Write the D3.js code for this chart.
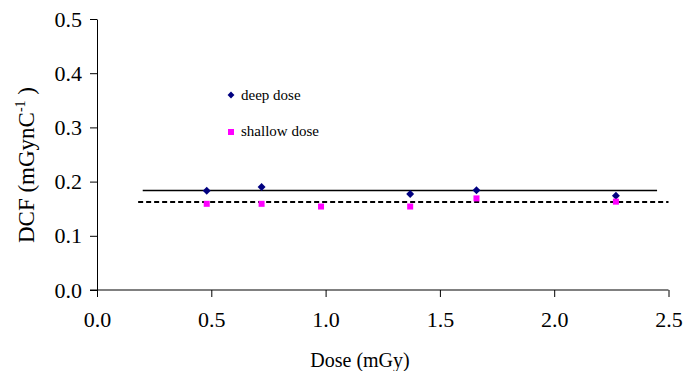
<!DOCTYPE html>
<html>
<head>
<meta charset="utf-8">
<script src="https://cdn.jsdelivr.net/npm/d3@7"></script>
<style>
  html, body { margin: 0; padding: 0; background: #fff; }
  svg { display: block; }
  svg text { font-family: "Liberation Serif", "Times New Roman", serif; fill: #000; }
</style>
</head>
<body>
<div id="chart"></div>
<script>
// dose values (mGy)
const deepDose = [0.48, 0.72, 1.37, 1.66, 2.27];
const deepDCF = [0.183, 0.190, 0.177, 0.184, 0.174];
const shallowDose = [0.48, 0.72, 0.98, 1.37, 1.66, 2.27];
const shallowDCF = [0.159, 0.159, 0.154, 0.154, 0.169, 0.163];

// mean lines
const deepLine = [[0.2, 0.1836], [2.45, 0.1836]];
const shallowLine = [[0.18, 0.1624], [2.5, 0.1624]];

const xTicks = [0, 0.5, 1.0, 1.5, 2.0, 2.5];
const yTicks = [0, 0.1, 0.2, 0.3, 0.4, 0.5];

const W = 684, H = 371;
const svg = d3.select("#chart").append("svg")
  .attr("width", W).attr("height", H);

const x = d3.scaleLinear().domain([0, 2.5]).range([97, 668.5]);
const y = d3.scaleLinear().domain([0, 0.5]).range([290, 19]);

// x axis: gray baseline, black ticks
svg.append("line")
  .attr("x1", 90).attr("x2", x(2.5))
  .attr("y1", y(0)).attr("y2", y(0))
  .attr("stroke", "#808080").attr("stroke-width", 2);

const xAx = svg.append("g")
  .attr("transform", `translate(0,${y(0)})`)
  .call(d3.axisBottom(x).tickValues(xTicks).tickFormat(d3.format(".1f"))
    .tickSize(7).tickPadding(14));
xAx.attr("font-family", null).attr("font-size", null);
xAx.select(".domain").remove();
xAx.selectAll("line").attr("stroke", "#000");
xAx.selectAll("text").style("font-size", "22px");

const yAx = svg.append("g")
  .attr("transform", `translate(${x(0)},0)`)
  .call(d3.axisLeft(y).tickValues(yTicks).tickFormat(d3.format(".1f"))
    .tickSize(7).tickPadding(8).tickSizeOuter(0));
yAx.attr("font-family", null).attr("font-size", null);
yAx.select(".domain").attr("stroke", "#000");
yAx.selectAll("line").attr("stroke", "#000");
yAx.selectAll("text").style("font-size", "22px");

// mean lines
const line = d3.line().x(d => x(d[0])).y(d => y(d[1]));
svg.append("path").attr("d", line(deepLine))
  .attr("fill", "none").attr("stroke", "#000").attr("stroke-width", 1.5);
svg.append("path").attr("d", line(shallowLine))
  .attr("fill", "none").attr("stroke", "#000").attr("stroke-width", 2)
  .attr("stroke-dasharray", "5,3");

// points
const diamond = d3.symbol().type(d3.symbolDiamond2).size(40);
svg.append("g").selectAll("path")
  .data(deepDose)
  .join("path")
  .attr("transform", (d, i) => `translate(${x(d)},${y(deepDCF[i])})`)
  .attr("d", diamond)
  .attr("fill", "#000080");

svg.append("g").selectAll("rect")
  .data(shallowDose)
  .join("rect")
  .attr("x", (d) => x(d) - 3)
  .attr("y", (d, i) => y(shallowDCF[i]) - 3)
  .attr("width", 6).attr("height", 6)
  .attr("fill", "#ff00ff");

// legend
const leg = svg.append("g").style("font-size", "15px");
leg.append("path").attr("transform", "translate(231,95)")
  .attr("d", d3.symbol().type(d3.symbolDiamond2).size(30)).attr("fill", "#000080");
leg.append("text").attr("x", 241).attr("y", 99.5).text("deep dose");
leg.append("rect").attr("x", 228).attr("y", 129).attr("width", 6).attr("height", 6)
  .attr("fill", "#ff00ff");
leg.append("text").attr("x", 241).attr("y", 136).text("shallow dose");

// axis titles
svg.append("text").attr("x", 360).attr("y", 367)
  .attr("text-anchor", "middle").style("font-size", "20px")
  .text("Dose (mGy)");

const yt = svg.append("text")
  .attr("transform", "translate(34,165) rotate(-90)")
  .attr("text-anchor", "middle").style("font-size", "23px");
yt.append("tspan").text("DCF (mGynC");
yt.append("tspan").attr("dy", -9).style("font-size", "14px").text("-1");
yt.append("tspan").attr("dy", 9).text(" )");
</script>
</body>
</html>
